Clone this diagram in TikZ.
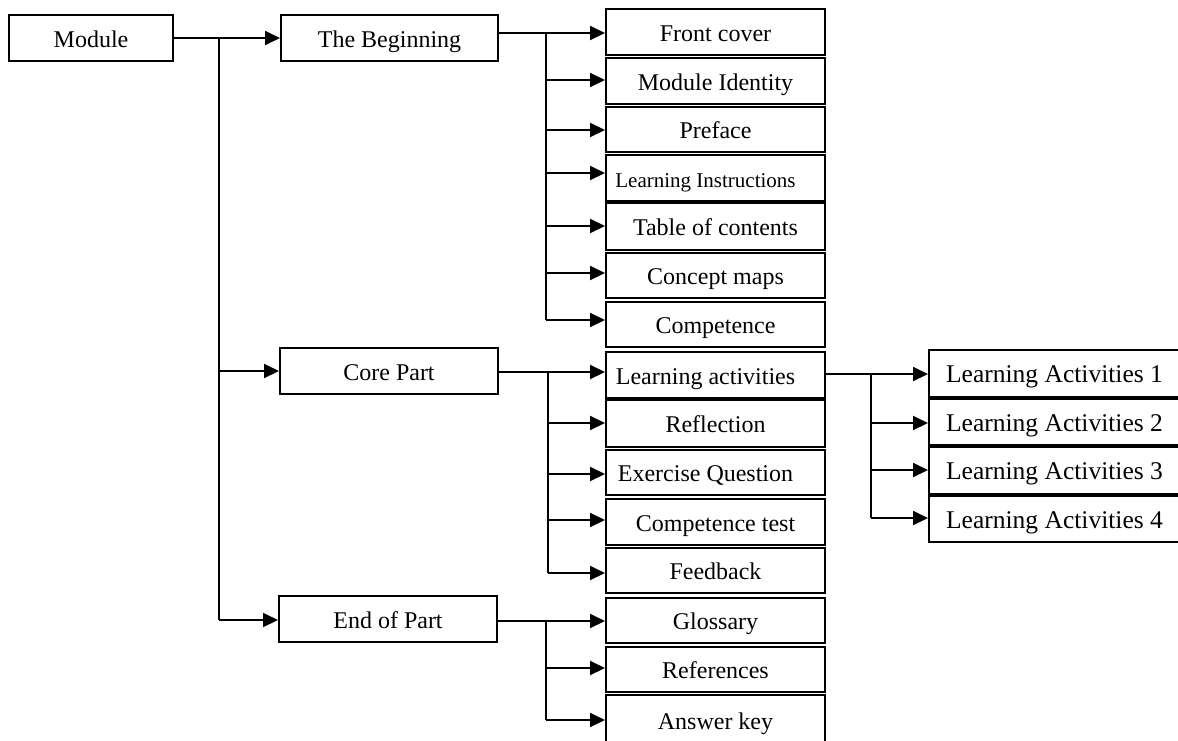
\documentclass[tikz,border=0pt]{standalone}
\usepackage{fontspec}
\setmainfont{Liberation Serif}
\usetikzlibrary{arrows.meta}
\tikzset{
  box/.style={draw, line width=2pt, inner sep=0pt, minimum height=46pt, text height=18pt, text depth=0pt, font=\fontsize{24}{28}\selectfont, fill=white},
  colbox/.style={box, minimum width=219pt},
  labox/.style={box, minimum width=251pt, font=\fontsize{25.5}{30}\selectfont},
  arr/.style={-{Triangle[length=15pt,width=14pt]}, line width=2pt},
  trunk/.style={line width=1.3pt},
}
\begin{document}
\begin{tikzpicture}[x=1pt,y=-1pt]
\useasboundingbox (0,0) rectangle (1178,740);
\clip (0,0) rectangle (1178,740);
% level 0/1
\node[box, minimum width=164pt] (module) at (91,38) {Module};
\node[box, minimum width=217pt] (begin) at (389.5,38) {The Beginning};
\node[box, minimum width=218pt] (core) at (389,371) {Core Part};
\node[box, minimum width=218pt] (endp) at (388,619) {End of Part};
% beginning column
\node[colbox] (fc) at (715.5,32) {Front cover};
\node[colbox] (mi) at (715.5,81) {Module Identity};
\node[colbox, minimum height=45pt] (pf) at (715.5,129.5) {Preface};
\node[colbox, font=\fontsize{21}{25}\selectfont] (li) at (715.5,178) {Learning Instructions\hspace*{20pt}};
\node[colbox, minimum height=47pt] (toc) at (715.5,226.5) {Table of contents};
\node[colbox, minimum height=45pt] (cm) at (715.5,275.5) {Concept maps};
\node[colbox, minimum height=45pt] (comp) at (715.5,324.5) {Competence};
% core column
\node[colbox] (la) at (715.5,375) {Learning activities\hspace*{20pt}};
\node[colbox, minimum height=47pt] (rf) at (715.5,423.5) {Reflection};
\node[colbox, minimum height=45pt] (eq) at (715.5,472.5) {Exercise Question\hspace*{20pt}};
\node[colbox] (ct) at (715.5,522) {Competence test};
\node[colbox, minimum height=45pt] (fb) at (715.5,570.5) {Feedback};
% end column
\node[colbox, minimum height=45pt] (gl) at (715.5,620.5) {Glossary};
\node[colbox, minimum height=45pt] (rfs) at (715.5,669.5) {References};
\node[colbox, minimum height=50pt] (ak) at (715.5,720) {Answer key};
% learning activities column
\node[labox, minimum height=47pt] (la1) at (1054.5,373.5) {Learning Activities 1};
\node[labox] (la2) at (1054.5,422) {Learning Activities 2};
\node[labox, minimum height=47pt] (la3) at (1054.5,470.5) {Learning Activities 3};
\node[labox] (la4) at (1054.5,519) {Learning Activities 4};
% main trunk
\coordinate (t0) at (219,38);
\coordinate (t1) at (219,371);
\coordinate (t2) at (219,620);
\draw[trunk] (t0) -- (t2);
\draw[arr] (module.east) -- (begin.west);
\draw[arr] (t1) -- (core.west);
\draw[arr] (t2) -- (t2 -| endp.west);
% beginning sub-trunk
\coordinate (a0) at (546,33);
\coordinate (a1) at (546,80);
\coordinate (a2) at (546,130);
\coordinate (a3) at (546,173);
\coordinate (a4) at (546,226);
\coordinate (a5) at (546,273);
\coordinate (a6) at (546,320);
\draw[trunk] (a0) -- (a6);
\draw[arr] (begin.east |- a0) -- (a0 -| fc.west);
\draw[arr] (a1) -- (a1 -| mi.west);
\draw[arr] (a2) -- (a2 -| pf.west);
\draw[arr] (a3) -- (a3 -| li.west);
\draw[arr] (a4) -- (a4 -| toc.west);
\draw[arr] (a5) -- (a5 -| cm.west);
\draw[arr] (a6) -- (a6 -| comp.west);
% core sub-trunk
\coordinate (b0) at (548,372);
\coordinate (b1) at (548,423);
\coordinate (b2) at (548,474);
\coordinate (b3) at (548,520);
\coordinate (b4) at (548,573);
\draw[trunk] (b0) -- (b4);
\draw[arr] (core.east |- b0) -- (b0 -| la.west);
\draw[arr] (b1) -- (b1 -| rf.west);
\draw[arr] (b2) -- (b2 -| eq.west);
\draw[arr] (b3) -- (b3 -| ct.west);
\draw[arr] (b4) -- (b4 -| fb.west);
% end sub-trunk
\coordinate (c0) at (546,621);
\coordinate (c1) at (546,668);
\coordinate (c2) at (546,720);
\draw[trunk] (c0) -- (c2);
\draw[arr] (endp.east |- c0) -- (c0 -| gl.west);
\draw[arr] (c1) -- (c1 -| rfs.west);
\draw[arr] (c2) -- (c2 -| ak.west);
% learning activities sub-trunk
\coordinate (d0) at (871,374);
\coordinate (d1) at (871,423);
\coordinate (d2) at (871,470);
\coordinate (d3) at (871,518);
\draw[trunk] (d0) -- (d3);
\draw[arr] (la.east |- d0) -- (d0 -| la1.west);
\draw[arr] (d1) -- (d1 -| la2.west);
\draw[arr] (d2) -- (d2 -| la3.west);
\draw[arr] (d3) -- (d3 -| la4.west);
\end{tikzpicture}
\end{document}
